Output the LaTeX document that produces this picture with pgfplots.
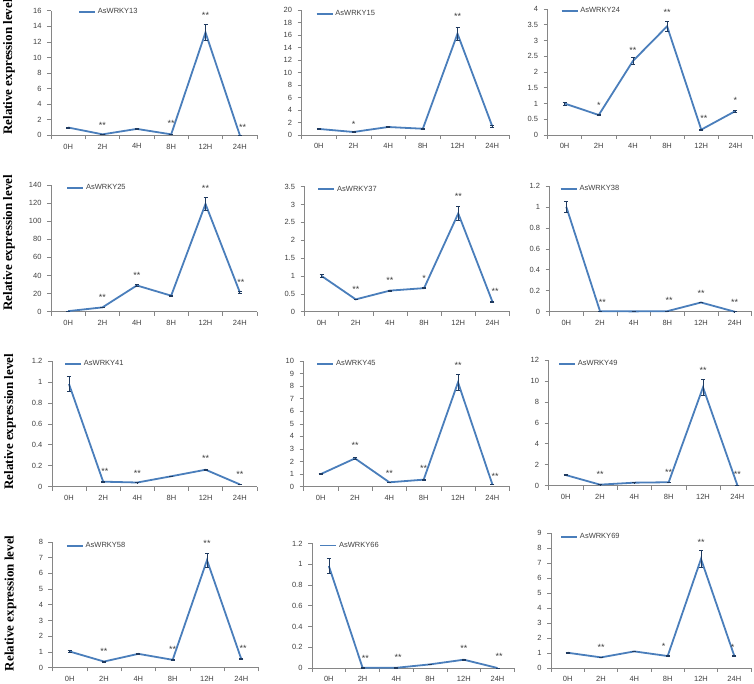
\documentclass[border=0pt]{standalone}
\usepackage{fontspec}
\setmainfont{Liberation Sans}
\newfontfamily\serifbold{Liberation Serif}
\usepackage{pgfplots}
\pgfplotsset{compat=1.18}
\definecolor{lineblue}{HTML}{4A7EBB}
\definecolor{errc}{HTML}{1F3A5F}
\definecolor{axgray}{HTML}{868686}
\definecolor{txt}{HTML}{404040}
\pgfplotsset{
  panel/.style={
    scale only axis,
    anchor=south west,
    xmin=-0.5, xmax=5.5,
    ymin=0,
    axis x line*=bottom,
    axis y line*=left,
    axis line style={axgray, line width=0.6bp},
    tick align=outside,
    major tick length=4bp,
    minor tick length=4bp,
    xtick={0,...,5},
    xticklabels={0H,2H,4H,8H,12H,24H},
    minor xtick={-0.5,0.5,1.5,2.5,3.5,4.5,5.5},
    major x tick style={draw=none},
    minor x tick style={axgray, line width=0.6bp},
    major y tick style={axgray, line width=0.6bp},
    tick label style={font=\fontsize{7.5bp}{9bp}\selectfont, text=txt},
    xticklabel style={yshift=-1bp},
    yticklabel style={xshift=-2bp},
    /pgf/number format/assume math mode=true,
    /pgf/number format/fixed,
    scaled y ticks=false,
    legend style={draw=none, fill=none, inner sep=0pt, font=\fontsize{7.5bp}{9bp}\selectfont, text=txt, anchor=west, legend cell align=left},
    legend image code/.code={\draw[##1] (0bp,0bp) -- (16bp,0bp);},
    clip=false,
  },
  firstcol/.style={
    ylabel={Relative expression level},
    ylabel style={at={(axis description cs:-0.204,#1)}, anchor=center, font=\serifbold\bfseries\fontsize{13bp}{15bp}\selectfont, text=black},
  },
  series/.style={lineblue, line width=1.8bp, mark=none,
    error bars/.cd, y dir=both, y explicit,
    error bar style={errc, line width=0.7bp},
    error mark options={errc, line width=0.7bp, rotate=90, mark size=2bp}},
  stars/.style={draw=none, mark=none, forget plot, nodes near coords, point meta=explicit symbolic,
    every node near coord/.append style={inner sep=0pt, yshift=-4.5bp, font=\fontsize{9bp}{10bp}\selectfont, text=txt}},
}
\begin{document}
\begin{tikzpicture}
% ---------- Row 1 ----------
\begin{axis}[panel, firstcol=0.548, at={(51bp,548.7bp)}, width=206bp, height=124.6bp,
  ymax=16, ytick={0,2,...,16}, legend style={at={(axis description cs:0.131,0.99)}}]
\addplot[series] coordinates {(0,1.0) +- (0,0.05) (1,0.12) +- (0,0.02) (2,0.82) +- (0,0.03) (3,0.12) +- (0,0.02) (4,13.2) +- (0,1.0) (5,0.02) +- (0,0.01)};
\addlegendentry{AsWRKY13}
\addplot[stars] coordinates {(1,1.45)[**] (3,1.7)[**] (4,15.6)[**] (5.08,1.2)[**]};
\end{axis}
\begin{axis}[panel, at={(301.5bp,549bp)}, width=208bp, height=125bp,
  ymax=20, ytick={0,2,...,20}, legend style={at={(axis description cs:0.067,0.97)}}]
\addplot[series] coordinates {(0,0.97) +- (0,0.05) (1,0.48) +- (0,0.03) (2,1.28) +- (0,0.05) (3,1.0) +- (0,0.04) (4,16.2) +- (0,1.1) (5,1.44) +- (0,0.15)};
\addlegendentry{AsWRKY15}
\addplot[stars] coordinates {(1,1.9)[*] (4,19.1)[**]};
\end{axis}
\begin{axis}[panel, at={(547.5bp,549bp)}, width=205bp, height=126bp,
  ymax=4, ytick={0,0.5,...,4}, legend style={at={(axis description cs:0.063,0.985)}}]
\addplot[series] coordinates {(0,1.0) +- (0,0.05) (1,0.635) +- (0,0.02) (2,2.35) +- (0,0.1) (3,3.45) +- (0,0.17) (4,0.17) +- (0,0.02) (5,0.76) +- (0,0.03)};
\addlegendentry{AsWRKY24}
\addplot[stars] coordinates {(1,0.98)[*] (2,2.73)[**] (3,3.92)[**] (4.08,0.56)[**] (5,1.13)[*]};
\end{axis}
% ---------- Row 2 ----------
\begin{axis}[panel, firstcol=0.544, at={(51bp,372.3bp)}, width=206bp, height=126.7bp,
  ymax=140, ytick={0,20,...,140}, legend style={at={(axis description cs:0.073,0.976)}}]
\addplot[series] coordinates {(0,0.6) +- (0,0.1) (1,4.8) +- (0,0.3) (2,29) +- (0,1.2) (3,17.7) +- (0,0.5) (4,119) +- (0,7.5) (5,21.4) +- (0,1)};
\addlegendentry{AsWRKY25}
\addplot[stars] coordinates {(1,17.3)[**] (2,41.6)[**] (4,137.4)[**] (5.03,33.9)[**]};
\end{axis}
\begin{axis}[panel, at={(304.5bp,372.3bp)}, width=205bp, height=125bp,
  ymax=3.5, ytick={0,0.5,...,3.5}, legend style={at={(axis description cs:0.062,0.98)}}]
\addplot[series] coordinates {(0,1.0) +- (0,0.04) (1,0.345) +- (0,0.01) (2,0.59) +- (0,0.02) (3,0.66) +- (0,0.02) (4,2.75) +- (0,0.2) (5,0.28) +- (0,0.02)};
\addlegendentry{AsWRKY37}
\addplot[stars] coordinates {(1,0.65)[**] (2,0.92)[**] (3,0.96)[*] (4,3.27)[**] (5.08,0.61)[**]};
\end{axis}
\begin{axis}[panel, at={(549.5bp,372.3bp)}, width=202bp, height=125.7bp,
  ymax=1.2, ytick={0,0.2,...,1.2}, legend style={at={(axis description cs:0.05,0.976)}}]
\addplot[series] coordinates {(0,1.0) +- (0,0.055) (1,0.005) +- (0,0.001) (2,0.003) +- (0,0.001) (3,0.005) +- (0,0.001) (4,0.088) +- (0,0.003) (5,0.0) +- (0,0.001)};
\addlegendentry{AsWRKY38}
\addplot[stars] coordinates {(1.07,0.10)[**] (3.05,0.115)[**] (4,0.19)[**] (5,0.10)[**]};
\end{axis}
% ---------- Row 3 ----------
\begin{axis}[panel, firstcol=0.516, at={(51.9bp,197.3bp)}, width=205bp, height=125.7bp,
  ymax=1.2, ytick={0,0.2,...,1.2}, legend style={at={(axis description cs:0.059,0.976)}}]
\addplot[series] coordinates {(0,0.98) +- (0,0.07) (1,0.048) +- (0,0.003) (2,0.04) +- (0,0.002) (3,0.1) +- (0,0.002) (4,0.162) +- (0,0.005) (5,0.022) +- (0,0.002)};
\addlegendentry{AsWRKY41}
\addplot[stars] coordinates {(1.05,0.16)[**] (2,0.143)[**] (4,0.277)[**] (5,0.127)[**]};
\end{axis}
\begin{axis}[panel, at={(303.5bp,197.3bp)}, width=206bp, height=125.7bp,
  ymax=10, ytick={0,1,...,10}, legend style={at={(axis description cs:0.061,0.976)}}]
\addplot[series] coordinates {(0,1.0) +- (0,0.04) (1,2.25) +- (0,0.1) (2,0.35) +- (0,0.02) (3,0.56) +- (0,0.03) (4,8.3) +- (0,0.62) (5,0.19) +- (0,0.03)};
\addlegendentry{AsWRKY45}
\addplot[stars] coordinates {(1,3.37)[**] (2,1.19)[**] (3,1.56)[**] (4,9.76)[**] (5.08,0.93)[**]};
\end{axis}
\begin{axis}[panel, at={(548.5bp,198.3bp)}, width=206bp, height=125.7bp,
  ymax=12, ytick={0,2,...,12}, legend style={at={(axis description cs:0.046,0.968)}}]
\addplot[series] coordinates {(0,1.02) +- (0,0.04) (1,0.1) +- (0,0.01) (2,0.29) +- (0,0.01) (3,0.33) +- (0,0.01) (4,9.39) +- (0,0.75) (5,0.05) +- (0,0.01)};
\addlegendentry{AsWRKY49}
\addplot[stars] coordinates {(1,1.18)[**] (3,1.4)[**] (4,11.1)[**] (5,1.18)[**]};
\end{axis}
% ---------- Row 4 ----------
\begin{axis}[panel, firstcol=0.512, at={(52.5bp,16.5bp)}, width=206bp, height=125.5bp,
  ymax=8, ytick={0,1,...,8}, legend style={at={(axis description cs:0.064,0.97)}}]
\addplot[series] coordinates {(0,1.02) +- (0,0.05) (1,0.38) +- (0,0.02) (2,0.87) +- (0,0.03) (3,0.49) +- (0,0.02) (4,6.84) +- (0,0.43) (5,0.53) +- (0,0.03)};
\addlegendentry{AsWRKY58}
\addplot[stars] coordinates {(1,1.12)[**] (3,1.25)[**] (4,7.98)[**] (5.05,1.27)[**]};
\end{axis}
\begin{axis}[panel, at={(312bp,16bp)}, width=202.4bp, height=124.5bp,
  ymax=1.2, ytick={0,0.2,...,1.2}, legend style={at={(axis description cs:0.035,0.984)}}]
\addplot[series] coordinates {(0,0.983) +- (0,0.075) (1,0.002) +- (0,0.001) (2,0.002) +- (0,0.001) (3,0.035) +- (0,0.002) (4,0.08) +- (0,0.003) (5,0.0) +- (0,0.001)};
\addlegendentry{AsWRKY66}
\addplot[stars] coordinates {(1.08,0.1)[**] (2.05,0.115)[**] (4,0.2)[**] (5.05,0.12)[**]};
\end{axis}
\begin{axis}[panel, at={(551bp,16bp)}, width=200bp, height=134.6bp,
  ymax=9, ytick={0,1,...,9}, legend style={at={(axis description cs:0.045,0.973)}}]
\addplot[series] coordinates {(0,1.02) +- (0,0.04) (1,0.71) +- (0,0.02) (2,1.11) +- (0,0.03) (3,0.8) +- (0,0.03) (4,7.29) +- (0,0.56) (5,0.8) +- (0,0.03)};
\addlegendentry{AsWRKY69}
\addplot[stars] coordinates {(1,1.46)[**] (2.88,1.5)[*] (4,8.5)[**] (4.95,1.45)[*]};
\end{axis}
\pgfresetboundingbox
\path (0bp,0bp) rectangle (754bp,684bp);
\end{tikzpicture}
\end{document}
